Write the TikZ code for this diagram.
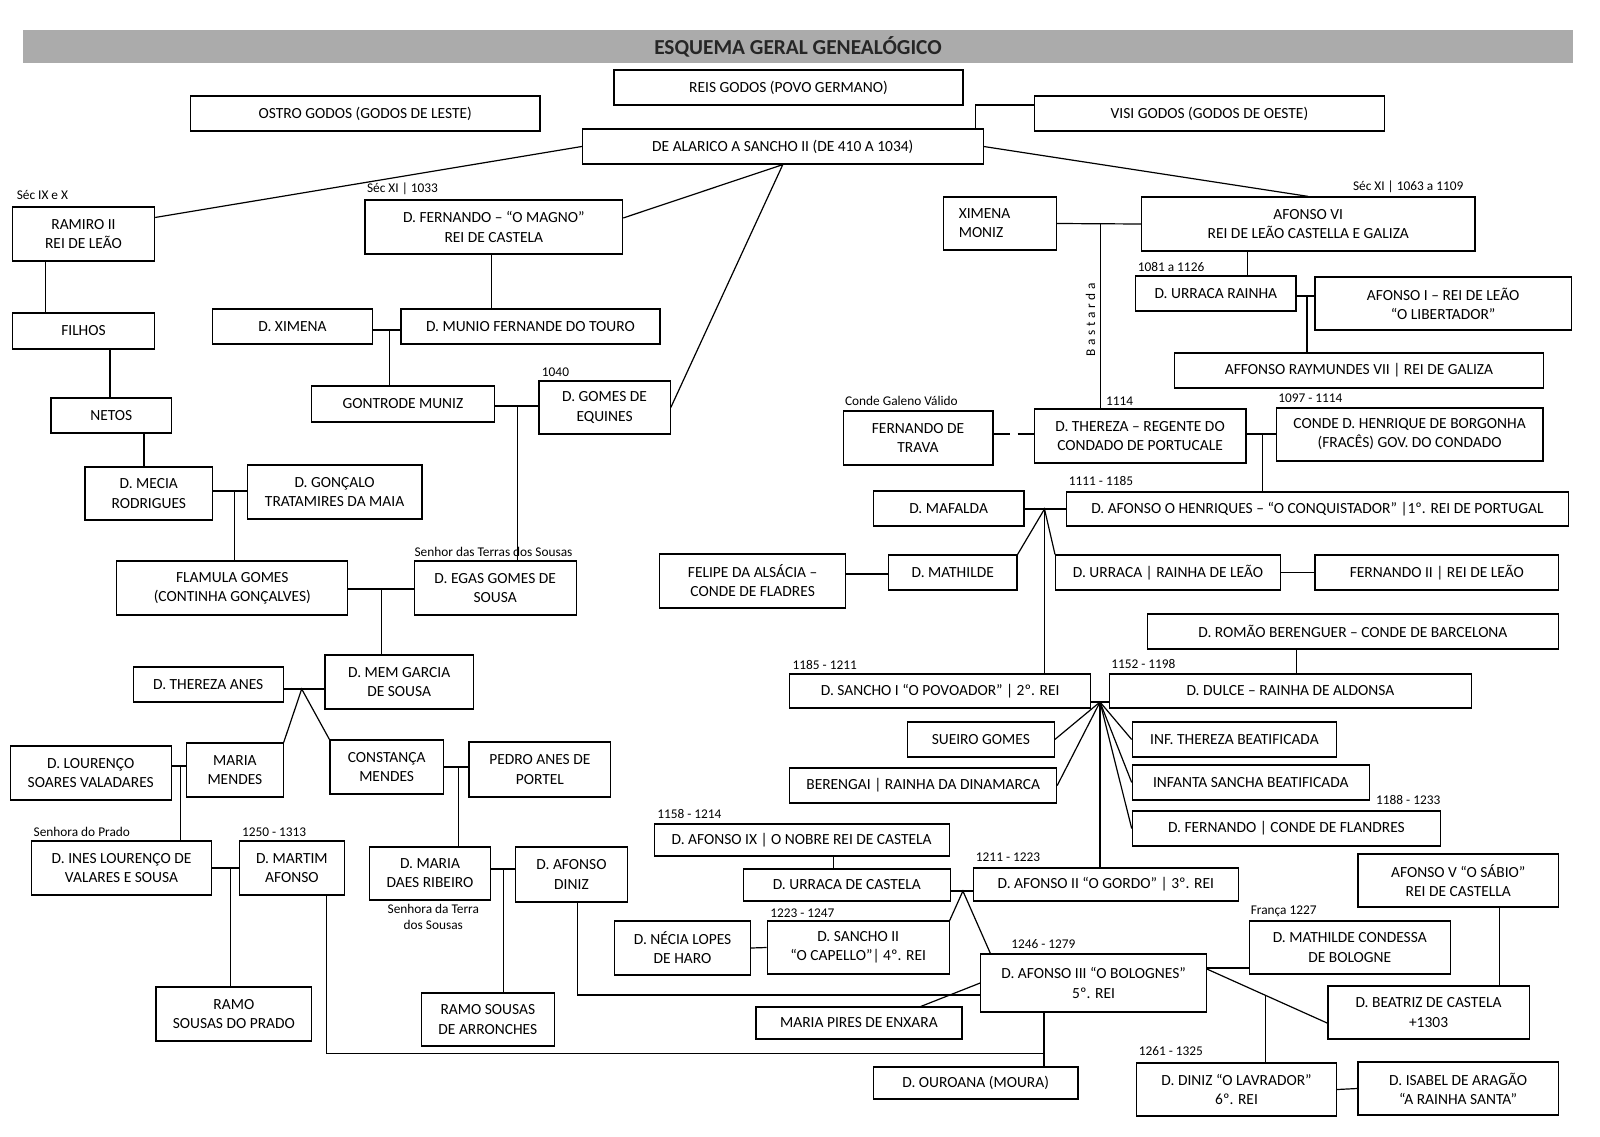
\documentclass[tikz,border=0pt]{standalone}
\usepackage{fontspec}
\setmainfont{Carlito}
\usetikzlibrary{fit,calc}
\newcommand{\boxfont}{\fontsize{11.6}{14.3}\selectfont}
\newcommand{\tagfont}{\fontsize{10}{12.5}\selectfont}

\begin{document}
\begin{tikzpicture}[x=0.75pt, y=-0.75pt,
	person/.style={draw, line width=0.9pt, inner sep=0pt},
	who/.style={label={[align=center, font=\boxfont, inner sep=0pt]center:#1}},
	tag/.style={inner sep=0pt, anchor=base west, font=\tagfont},
	link/.style={line width=0.9pt}]

	\path[use as bounding box, fill=white] (0,0) rectangle (1600,1136);

	\node [fill=black!33, inner sep=0pt, fit={(23,30) (1573,63)}, label={[font=\fontsize{16}{19}\selectfont\bfseries, text=black!85, inner sep=0pt]center:ESQUEMA GERAL GENEALÓGICO}] (titlebar) {};

	\node [person, fit={(614,70) (963,105)}, who={REIS GODOS (POVO GERMANO)}] (reis) {};
	\node [person, fit={(190.5,96) (540,131)}, who={OSTRO GODOS (GODOS DE LESTE)}] (ostro) {};
	\node [person, fit={(1034.2,96) (1384.8,131)}, who={VISI GODOS (GODOS DE OESTE)}] (visi) {};
	\node [person, fit={(582.4,129) (983.2,164)}, who={DE ALARICO A SANCHO II (DE 410 A 1034)}] (alarico) {};
	\node [person, fit={(12.4,207) (154.6,261)}, who={RAMIRO II\\REI DE LEÃO}] (ramiro) {};
	\node [person, fit={(365,200) (622.7,254)}, who={D. FERNANDO – “O MAGNO”\\REI DE CASTELA}] (fernando) {};
	\node [person, fit={(943.6,197) (1056.6,250)}, label={[align=left, text width=62pt, font=\boxfont, inner sep=0pt]center:XIMENA\\MONIZ}] (ximenamoniz) {};
	\node [person, fit={(1141.6,197) (1475,251)}, who={AFONSO VI\\REI DE LEÃO CASTELLA E GALIZA}] (afonsovi) {};
	\node [person, fit={(1135.8,276) (1295.9,311)}, who={D. URRACA RAINHA}] (urracarainha) {};
	\node [person, fit={(1314.9,277) (1571.4,330)}, who={AFONSO I – REI DE LEÃO\\“O LIBERTADOR”}] (afonsoi) {};
	\node [person, fit={(12.4,313) (154.6,349)}, who={FILHOS}] (filhos) {};
	\node [person, fit={(212.5,309) (372.6,344)}, who={D. XIMENA}] (ximena) {};
	\node [person, fit={(401,309) (659.9,344)}, who={D. MUNIO FERNANDE DO TOURO}] (munio) {};
	\node [person, fit={(1174.7,353) (1543.2,388)}, who={AFFONSO RAYMUNDES VII | REI DE GALIZA}] (raymundes) {};
	\node [person, fit={(311.7,386) (494.2,422)}, who={GONTRODE MUNIZ}] (gontrode) {};
	\node [person, fit={(539,381) (670.2,434)}, who={D. GOMES DE\\EQUINES}] (gomes) {};
	\node [person, fit={(51,398) (171.5,433)}, who={NETOS}] (netos) {};
	\node [person, fit={(843.1,411) (992.9,465)}, who={FERNANDO DE\\TRAVA}] (trava) {};
	\node [person, fit={(1034.2,409) (1246,463)}, who={D. THEREZA – REGENTE DO\\CONDADO DE PORTUCALE}] (thereza) {};
	\node [person, fit={(1276.3,408) (1542.9,461)}, who={CONDE D. HENRIQUE DE BORGONHA\\(FRACÊS) GOV. DO CONDADO}] (henrique) {};
	\node [person, fit={(85,467) (212.5,520)}, who={D. MECIA\\RODRIGUES}] (mecia) {};
	\node [person, fit={(247.3,465) (421.9,519)}, who={D. GONÇALO\\TRATAMIRES DA MAIA}] (goncalo) {};
	\node [person, fit={(873.4,491) (1023.9,526)}, who={D. MAFALDA}] (mafalda) {};
	\node [person, fit={(1066.2,492) (1568.7,526)}, who={D. AFONSO O HENRIQUES – “O CONQUISTADOR” |1º. REI DE PORTUGAL}] (henriques) {};
	\node [person, fit={(659.5,554) (845.8,608)}, who={FELIPE DA ALSÁCIA –\\CONDE DE FLADRES}] (felipe) {};
	\node [person, fit={(888.5,555) (1017,590)}, who={D. MATHILDE}] (mathilde) {};
	\node [person, fit={(1055.6,555) (1280.4,590)}, who={D. URRACA | RAINHA DE LEÃO}] (urracaleao) {};
	\node [person, fit={(1314.9,555) (1558.7,590)}, who={FERNANDO II | REI DE LEÃO}] (fernandoii) {};
	\node [person, fit={(116.8,561) (347.8,615)}, who={FLAMULA GOMES\\(CONTINHA GONÇALVES)}] (flamula) {};
	\node [person, fit={(414.3,561) (576.2,615)}, who={D. EGAS GOMES DE\\SOUSA}] (egas) {};
	\node [person, fit={(1147.1,614) (1558.7,649)}, who={D. ROMÃO BERENGUER – CONDE DE BARCELONA}] (romao) {};
	\node [person, fit={(133.3,667) (283.1,702)}, who={D. THEREZA ANES}] (theranes) {};
	\node [person, fit={(325,655) (473.3,709)}, who={D. MEM GARCIA\\DE SOUSA}] (mem) {};
	\node [person, fit={(789.7,674) (1090.7,708)}, who={D. SANCHO I “O POVOADOR” | 2º. REI}] (sanchoi) {};
	\node [person, fit={(1109.3,674) (1471.6,708)}, who={D. DULCE – RAINHA DE ALDONSA}] (dulce) {};
	\node [person, fit={(907.5,722) (1054.2,757)}, who={SUEIRO GOMES}] (sueiro) {};
	\node [person, fit={(1132.3,722) (1336.6,757)}, who={INF. THEREZA BEATIFICADA}] (infthereza) {};
	\node [person, fit={(789.7,768) (1056.6,803)}, who={BERENGAI | RAINHA DA DINAMARCA}] (berengai) {};
	\node [person, fit={(1132.3,765) (1369.3,800)}, who={INFANTA SANCHA BEATIFICADA}] (infsancha) {};
	\node [person, fit={(1132.3,811) (1440.6,846)}, who={D. FERNANDO | CONDE DE FLANDRES}] (fernandoconde) {};
	\node [person, fit={(10.3,746) (171.2,800)}, who={D. LOURENÇO\\SOARES VALADARES}] (lourenco) {};
	\node [person, fit={(186.7,743) (283.1,797)}, who={MARIA\\MENDES}] (mariamendes) {};
	\node [person, fit={(330,740) (443.3,794)}, who={CONSTANÇA\\MENDES}] (constanca) {};
	\node [person, fit={(469,742) (610.7,797)}, who={PEDRO ANES DE\\PORTEL}] (pedro) {};
	\node [person, fit={(654.3,824) (949.1,856)}, who={D. AFONSO IX | O NOBRE REI DE CASTELA}] (afonsoix) {};
	\node [person, fit={(1357.9,854) (1558.7,907)}, who={AFONSO V “O SÁBIO”\\REI DE CASTELLA}] (afonsov) {};
	\node [person, fit={(31.3,841) (211.8,895)}, who={D. INES LOURENÇO DE\\VALARES E SOUSA}] (ines) {};
	\node [person, fit={(239.4,841) (344.4,895)}, who={D. MARTIM\\AFONSO}] (martim) {};
	\node [person, fit={(369.3,847) (490.7,900)}, who={D. MARIA\\DAES RIBEIRO}] (mariadaes) {};
	\node [person, fit={(515.7,847) (627.3,902)}, who={D. AFONSO\\DINIZ}] (afonsodiniz) {};
	\node [person, fit={(743.2,869) (950.5,901)}, who={D. URRACA DE CASTELA}] (urracacast) {};
	\node [person, fit={(973.3,868) (1238.4,901)}, who={D. AFONSO II “O GORDO” | 3º. REI}] (afonsoii) {};
	\node [person, fit={(614.7,921) (750.4,975)}, who={D. NÉCIA LOPES\\DE HARO}] (necia) {};
	\node [person, fit={(767.3,921) (949.1,974)}, who={D. SANCHO II\\“O CAPELLO”| 4º. REI}] (sanchoii) {};
	\node [person, fit={(1249.4,921) (1450.2,974)}, who={D. MATHILDE CONDESSA\\DE BOLOGNE}] (mathcond) {};
	\node [person, fit={(980.8,954) (1206.4,1012)}, who={D. AFONSO III “O BOLOGNES”\\5º. REI}] (afonsoiii) {};
	\node [person, fit={(1328,986) (1529.1,1039)}, who={D. BEATRIZ DE CASTELA\\+1303}] (beatriz) {};
	\node [person, fit={(156,987) (311.7,1041)}, who={RAMO\\SOUSAS DO PRADO}] (ramoprado) {};
	\node [person, fit={(421.2,993) (554.5,1046)}, who={RAMO SOUSAS\\DE ARRONCHES}] (ramoarr) {};
	\node [person, fit={(756,1007) (961.9,1039)}, who={MARIA PIRES DE ENXARA}] (mariapires) {};
	\node [person, fit={(1136.5,1063) (1336.6,1116)}, who={D. DINIZ “O LAVRADOR”\\6º. REI}] (diniz) {};
	\node [person, fit={(1357.9,1062) (1558.4,1115)}, who={D. ISABEL DE ARAGÃO\\“A RAINHA SANTA”}] (isabel) {};
	\node [person, fit={(873.4,1067) (1078,1099)}, who={D. OUROANA (MOURA)}] (ouroana) {};

	\node [tag] (sec9) at (16.5,199.5) {Séc IX e X};
	\node [tag] (sec11) at (366.8,192.5) {Séc XI | 1033};
	\node [tag, anchor=base east] (sec11b) at (1463.6,190.5) {Séc XI | 1063 a 1109};
	\node [tag] (d1081) at (1137.5,271.5) {1081 a 1126};
	\node [tag] (d1040) at (541.7,376.5) {1040};
	\node [tag] (senhor) at (414.3,556.5) {Senhor das Terras dos Sousas};
	\node [tag] (d1114) at (1105.8,405.5) {1114};
	\node [tag] (d1097) at (1278,402.5) {1097 - 1114};
	\node [tag] (galeno) at (844.8,405.5) {Conde Galeno Válido};
	\node [tag] (d1111) at (1068.6,485.5) {1111 - 1185};
	\node [tag] (d1185) at (792.4,669.5) {1185 - 1211};
	\node [tag] (d1152) at (1111,668.5) {1152 - 1198};
	\node [tag, anchor=base east] (d1188) at (1440.6,804.5) {1188 - 1233};
	\node [tag] (d1158) at (657,818.5) {1158 - 1214};
	\node [tag] (d1211) at (975.7,861.5) {1211 - 1223};
	\node [tag] (d1223) at (770,917.5) {1223 - 1247};
	\node [tag] (d1246) at (1011,948.5) {1246 - 1279};
	\node [tag] (franca) at (1250.5,914.5) {França 1227};
	\node [tag] (d1261) at (1138.5,1055.5) {1261 - 1325};
	\node [tag] (prado) at (33.4,836.5) {Senhora do Prado};
	\node [tag] (d1250) at (241.8,836.5) {1250 - 1313};
	\node [tag, anchor=center, align=center] (terra) at (433.3,917) {Senhora da Terra\\dos Sousas};
	\node [tag, anchor=center, rotate=90, font=\tagfont\addfontfeatures{LetterSpace=28}] (bastarda) at (1090.5,320) {Bastarda};

	\coordinate (vj) at (975.7,105);
	\draw [link] (alarico.north -| vj) -- (vj) -- (visi.west |- vj);
	\draw [link] (ramiro.13) -- (alarico.west);
	\draw [link] (fernando.4) -- (alarico.south) -- (gomes.east);
	\draw [link] (alarico.east) -- (afonsovi.north);

	\coordinate (fm) at (491.8,280);
	\draw [link] (fernando.south -| fm) -- (munio.north -| fm);
	\coordinate (xm) at (389.2,330);
	\draw [link] (ximena.east |- xm) -- (munio.west |- xm);
	\draw [link] (xm) -- (xm |- gontrode.north);
	\coordinate (gg) at (517.6,406);
	\draw [link] (gontrode.east |- gg) -- (gomes.west |- gg);
	\draw [link] (gg) -- (gg |- egas.north);
	\coordinate (rf) at (45.8,287);
	\draw [link] (ramiro.south -| rf) -- (filhos.north -| rf);
	\coordinate (fn) at (109.9,373);
	\draw [link] (filhos.south -| fn) -- (netos.north -| fn);
	\coordinate (nm) at (144,450);
	\draw [link] (netos.south -| nm) -- (mecia.north -| nm);
	\coordinate (mg) at (234.2,491);
	\draw [link] (mecia.east |- mg) -- (goncalo.west |- mg);
	\draw [link] (mg) -- (mg |- flamula.north);
	\coordinate (fe) at (381.3,589);
	\draw [link] (flamula.east |- fe) -- (egas.west |- fe);
	\draw [link] (fe) -- (fe |- mem.north);
	\coordinate (tm) at (301.7,689);
	\draw [link] (theranes.east |- tm) -- (mem.west |- tm);
	\draw [link] (mariamendes.north east) -- (tm) -- (constanca.north west);
	\coordinate (lm) at (180.8,766);
	\draw [link] (lourenco.east |- lm) -- (mariamendes.west |- lm);
	\draw [link] (lm) -- (lm |- ines.north);
	\coordinate (cp) at (458.3,767);
	\draw [link] (constanca.east |- cp) -- (pedro.west |- cp);
	\draw [link] (cp) -- (cp |- mariadaes.north);
	\coordinate (im) at (230.1,868);
	\draw [link] (ines.east |- im) -- (martim.west |- im);
	\draw [link] (im) -- (im |- ramoprado.north);
	\coordinate (md) at (503.3,869);
	\draw [link] (mariadaes.east |- md) -- (afonsodiniz.west |- md);
	\draw [link] (md) -- (md |- ramoarr.north);
	\coordinate (mo) at (326.5,1053.5);
	\coordinate (ao) at (1043.9,1053.5);
	\draw [link] (martim.south -| mo) -- (mo) -- (ao);
	\draw [link] (afonsoiii.south -| ao) -- (ouroana.north -| ao);
	\coordinate (ad) at (577.5,995);
	\draw [link] (afonsodiniz.south -| ad) -- (ad) -- (afonsoiii.west |- ad);
	\draw [link] (mariapires.15) -- (afonsoiii.west);

	\draw [link] (ximenamoniz.east) -- (afonsovi.west);
	\coordinate (bj) at (1100.6,224);
	\draw [link] (bj) -- (bj |- thereza.north);
	\coordinate (au) at (1247.7,260);
	\draw [link] (afonsovi.south -| au) -- (urracarainha.north -| au);
	\coordinate (ua) at (1307,296);
	\draw [link] (urracarainha.east |- ua) -- (afonsoi.west |- ua);
	\draw [link] (ua) -- (ua |- raymundes.north);
	\coordinate (tt) at (1014,434);
	\draw [link, dash pattern=on 12pt off 6pt] (trava.east |- tt) -- (thereza.west |- tt);
	\coordinate (th) at (1262.5,434);
	\draw [link] (thereza.east |- th) -- (henrique.west |- th);
	\draw [link] (th) -- (th |- henriques.north);
	\coordinate (mh) at (1044.5,509);
	\draw [link] (mafalda.east |- mh) -- (henriques.west |- mh);
	\draw [link] (mathilde.north east) -- (mh) -- (urracaleao.north west);
	\draw [link] (mh) -- (mh |- sanchoi.north);
	\coordinate (fm2) at (867,574);
	\draw [link] (felipe.east |- fm2) -- (mathilde.west |- fm2);
	\draw [link] (urracaleao.east) -- (fernandoii.west);
	\coordinate (rd) at (1296.6,660);
	\draw [link] (romao.south -| rd) -- (dulce.north -| rd);
	\coordinate (sd) at (1100,702);
	\draw [link] (sanchoi.east |- sd) -- (dulce.west |- sd);
	\foreach \kid in {sueiro.east, berengai.east, infthereza.west, infsancha.west, fernandoconde.west}
		\draw [link] (sd) -- (\kid);
	\draw [link] (sd) -- (sd |- afonsoii.north);
	\coordinate (a9) at (833.8,862);
	\draw [link] (afonsoix.south -| a9) -- (urracacast.north -| a9);
	\coordinate (uc) at (962.9,891);
	\draw [link] (urracacast.east |- uc) -- (afonsoii.west |- uc);
	\draw [link] (sanchoii.north east) -- (uc) -- (afonsoiii.164);
	\draw [link] (necia.east) -- (sanchoii.west);
	\coordinate (mc) at (1228,968);
	\draw [link] (afonsoiii.east |- mc) -- (mathcond.west |- mc);
	\draw [link] (afonsoiii.7) -- (beatriz.186);
	\coordinate (dz) at ($(afonsoiii.7)!0.487!(beatriz.186)$);
	\draw [link] (dz) -- (dz |- diniz.north);
	\coordinate (a5) at (1499.8,950);
	\draw [link] (afonsov.south -| a5) -- (beatriz.north -| a5);
	\draw [link] (diniz.east) -- (isabel.west);

\end{tikzpicture}
\end{document}
